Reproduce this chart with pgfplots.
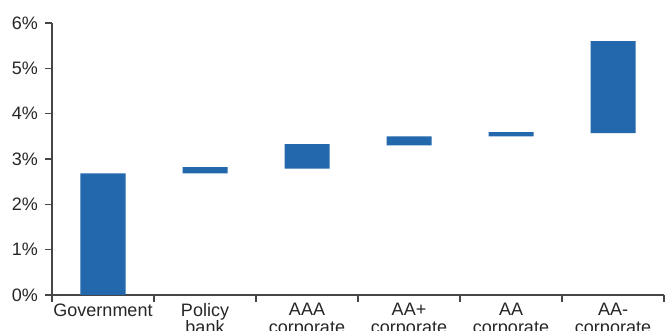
\documentclass[border=0pt]{standalone}
\usepackage{fontspec}
\setmainfont{Liberation Sans}
\usepackage{pgfplots}
\pgfplotsset{compat=1.18}
\usetikzlibrary{calc}
\definecolor{barblue}{RGB}{35,103,173}
\definecolor{axisgray}{RGB}{70,70,70}
\begin{document}
\begin{tikzpicture}
\begin{axis}[
  scale only axis,
  width=306pt, height=136pt,
  xmin=-0.5, xmax=5.5,
  ymin=0, ymax=6,
  ybar stacked,
  bar width=22.5pt,
  axis lines*=left,
  axis line style={axisgray, line width=0.6pt},
  tick align=outside,
  major tick length=3.5pt,
  minor tick length=3.5pt,
  xtick={0,...,5},
  xticklabels={Government, Policy\\bank, AAA\\corporate, AA+\\corporate, AA\\corporate, AA-\\corporate},
  xticklabel style={align=center, font=\fontsize{9}{8.6}\selectfont, text=black!85, yshift=2.8pt},
  major x tick style={draw=none},
  minor xtick={-0.5,0.5,...,5.5},
  minor x tick style={draw=axisgray, line width=0.6pt},
  ytick={0,...,6},
  y tick style={draw=axisgray, line width=0.6pt},
  yticklabel={\pgfmathprintnumber{\tick}\%},
  yticklabel style={font=\fontsize{9}{9}\selectfont, text=black!85},
  /pgf/number format/assume math mode=true,
]
\addplot[draw=none, fill=none] coordinates {(0,0) (1,2.68) (2,2.79) (3,3.30) (4,3.50) (5,3.57)};
\addplot[draw=none, fill=barblue] coordinates {(0,2.68) (1,0.14) (2,0.54) (3,0.20) (4,0.09) (5,2.03)};
\end{axis}
\pgfresetboundingbox
\path ($(current axis.south west)+(-26pt,-18pt)$) rectangle ($(current axis.north east)+(3.5pt,11.5pt)$);
\end{tikzpicture}
\end{document}
